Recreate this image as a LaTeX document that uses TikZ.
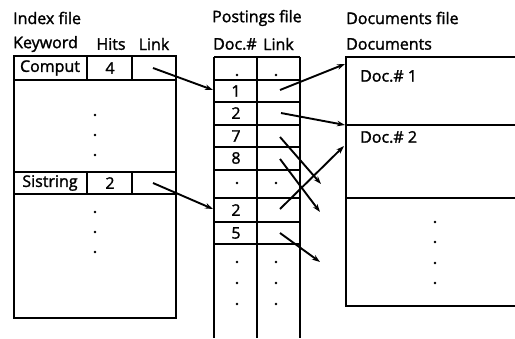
\documentclass[tikz,border=0pt]{standalone}
\usepackage{fontspec}
\setmainfont{Open Sans}[FakeBold=1.6]
\usetikzlibrary{arrows.meta}
\begin{document}
\begin{tikzpicture}[x=1pt,y=-1pt,
  frame/.style={line width=2.2pt},
  thin/.style={line width=1.8pt},
  lbl/.style={inner sep=0pt,anchor=west,font=\fontsize{16}{18}\selectfont},
  celltxt/.style={inner sep=0pt,font=\fontsize{16}{18}\selectfont},
  dotmark/.style={fill=black,circle,inner sep=0pt,minimum size=2.6pt},
  ptr/.style={line width=1.9pt,-{Stealth[length=8pt,width=5.5pt]}}]
\useasboundingbox (0,0) rectangle (515,338);
% ---------- headings ----------
\node[lbl] (hidx) at (13,18) {Index file};
\node[lbl] (hkw) at (13,44) {Keyword};
\node[celltxt] (hhits) at (111,44) {Hits};
\node[celltxt] (hlink) at (154,44) {Link};
\node[lbl] (hpost) at (212,18) {Postings file};
\node[lbl] (hdoc) at (213,44) {Doc.\#};
\node[lbl] (hplink) at (263,44) {Link};
\node[lbl] (hdocs) at (346,18) {Documents file};
\node[lbl] (hdocs2) at (346,44) {Documents};
% ---------- index file ----------
\draw[frame] (14,56) rectangle (176,318);
\draw[frame] (14,80) -- (176,80);
\draw[frame] (14,172) -- (176,172);
\draw[frame] (14,194) -- (176,194);
\draw[thin] (87,56) -- (87,80) (132,56) -- (132,80);
\draw[thin] (87,172) -- (87,194) (132,172) -- (132,194);
\node[celltxt] (kw1) at (50,68) {Comput};
\node[celltxt] (h1) at (110,68) {4};
\node[celltxt] (kw2) at (50,183) {Sistring};
\node[celltxt] (h2) at (110,183) {2};
\foreach \y in {115,135,155,212,232,252} \node[dotmark] at (95,\y) {};
% ---------- postings file ----------
\draw[frame] (214,57) -- (214,338) (257,57) -- (257,338) (300,57) -- (300,338);
\foreach \y in {57,80,102,125,147,170,198,222,244} \draw[frame] (214,\y) -- (300,\y);
\node[celltxt] (p1) at (236,91) {1};
\node[celltxt] (p2) at (236,113) {2};
\node[celltxt] (p7) at (236,136) {7};
\node[celltxt] (p8) at (236,158) {8};
\node[celltxt] (p2b) at (236,210) {2};
\node[celltxt] (p5) at (236,233) {5};
\foreach \x in {237,276} {
  \node[dotmark] at (\x,75) {};
  \node[dotmark] at (\x,183) {};
  \foreach \y in {262,283,304} \node[dotmark] at (\x,\y) {};
}
% ---------- documents file ----------
\draw[frame] (518,57) -- (346,57) -- (346,306) -- (518,306);
\draw[frame] (346,125) -- (518,125) (346,198) -- (518,198);
\node[lbl] (d1) at (360,76) {Doc.\# 1};
\node[lbl] (d2) at (360,137) {Doc.\# 2};
\foreach \y in {222,242,263,283} \node[dotmark] at (435,\y) {};
% ---------- pointer coordinates ----------
\coordinate (ia) at (153,68);  \coordinate (pa) at (213,90);
\coordinate (ib) at (153,183); \coordinate (pb) at (213,209);
\coordinate (l1) at (280,90);  \coordinate (e1) at (345,64);
\coordinate (l2) at (281,113); \coordinate (e2) at (345,125);
\coordinate (l7) at (280,137); \coordinate (e7) at (321,184);
\coordinate (l8) at (280,159); \coordinate (e8) at (320,212);
\coordinate (lb) at (280,209); \coordinate (eb) at (344,146);
\coordinate (l5) at (280,233); \coordinate (e5) at (320,262);
\draw[ptr] (ia) -- (pa);
\draw[ptr] (ib) -- (pb);
\draw[ptr] (l1) -- (e1);
\draw[ptr] (l2) -- (e2);
\draw[ptr] (l7) -- (e7);
\draw[ptr] (l8) -- (e8);
\draw[ptr] (lb) -- (eb);
\draw[ptr] (l5) -- (e5);
\end{tikzpicture}
\end{document}
